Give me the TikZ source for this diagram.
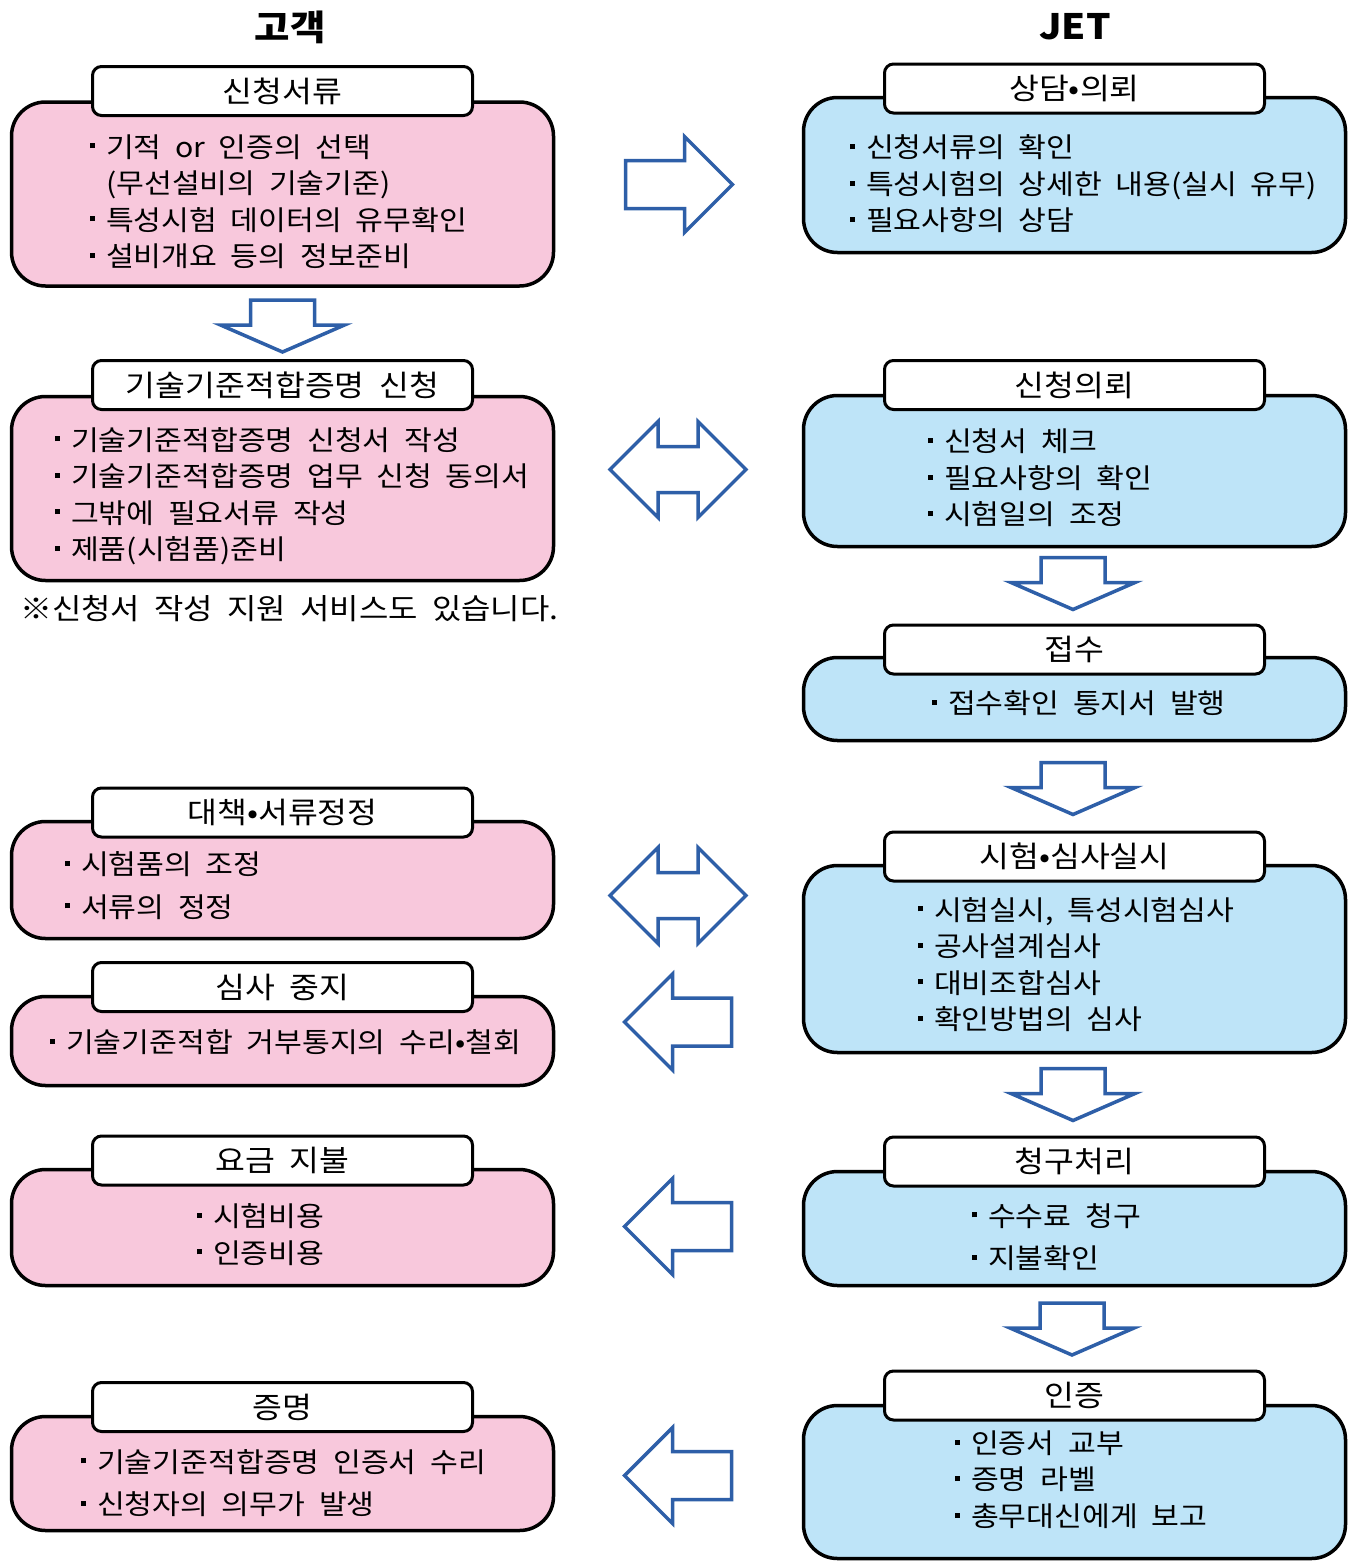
\documentclass[tikz,border=0pt]{standalone}
\usepackage{fontspec}
\setmainfont{Noto Sans CJK KR}[WordSpace=2,FakeStretch=1.1]
\definecolor{boxpink}{HTML}{F8C8DC}
\definecolor{boxblue}{HTML}{BEE4F8}
\definecolor{arrowblue}{HTML}{2E5FA8}
\newcommand\bul{\rule[0.32em]{0.18em}{0.18em}\hspace{0.4em}}
\newcommand\ind{\hspace{0.58em}}

\begin{document}
\begin{tikzpicture}[x=1pt,y=-1pt,font=\fontsize{27.5}{36.5}\selectfont]
    \tikzstyle{body}=[draw,line width=3.5pt,rounded corners=34pt,minimum width=542pt,inner sep=0]
    \tikzstyle{pink body}=[body,fill=boxpink]
    \tikzstyle{blue body}=[body,fill=boxblue]
    \tikzstyle{tab}=[draw,fill=white,line width=3pt,rounded corners=9pt,minimum width=380pt,minimum height=49pt,inner sep=0,font=\fontsize{29.5}{30}\selectfont]
    \tikzstyle{items}=[align=left,inner sep=0,anchor=west]
    \tikzstyle{title}=[font=\fontsize{35}{36}\selectfont\bfseries]
    \tikzstyle{block arrow}=[draw=arrowblue,line width=3.5pt,fill=white]
    \tikzset{
        arrow right/.pic={\draw[block arrow] (-53,-24) -- (6,-24) -- (6,-48) -- (54,0) -- (6,48) -- (6,24) -- (-53,24) -- cycle;},
        arrow both/.pic={\draw[block arrow] (-68,0) -- (-20,-48) -- (-20,-23) -- (20,-23) -- (20,-48) -- (68,0) -- (20,48) -- (20,23) -- (-20,23) -- (-20,48) -- cycle;},
        arrow down/.pic={\draw[block arrow] (-32,-26) -- (32,-26) -- (32,-1) -- (62,-1) -- (0,26) -- (-62,-1) -- (-32,-1) -- cycle;}
    }
    \useasboundingbox (0,0) rectangle (1356,1564);

    \node(customer)[title] at (290,27) {고객};
    \node(jet)[title] at (1075,27) {JET};

    % customer side
    \node(b1)[pink body,minimum height=184pt] at (282.5,194) {};
    \node(t1)[tab] at (282.5,91) {신청서류};
    \node(i1)[items] at (90,201.5) {\bul 기적 or 인증의 선택\\ \ind(무선설비의 기술기준)\\ \bul 특성시험 데이터의 유무확인\\ \bul 설비개요 등의 정보준비};

    \node(b2)[pink body,minimum height=184pt] at (282.5,488.5) {};
    \node(t2)[tab] at (282.5,385) {기술기준적합증명 신청};
    \node(i2)[items] at (55,496) {\bul 기술기준적합증명 신청서 작성\\ \bul 기술기준적합증명 업무 신청 동의서\\ \bul 그밖에 필요서류 작성\\ \bul 제품(시험품)준비};
    \node(note)[items,font=\fontsize{29}{30}\selectfont] at (20,609) {※신청서 작성 지원 서비스도 있습니다.};

    \node(b3)[pink body,minimum height=117pt] at (282.5,880) {};
    \node(t3)[tab] at (282.5,812.5) {대책•서류정정};
    \node(i3)[items] at (65,885.5) {\bul 시험품의 조정\\[6pt] \bul 서류의 정정};

    \node(b4)[pink body,minimum height=89pt] at (282.5,1041) {};
    \node(t4)[tab] at (282.5,987) {심사 중지};
    \node(i4)[items] at (50,1042) {\bul 기술기준적합 거부통지의 수리•철회};

    \node(b5)[pink body,minimum height=116pt] at (282.5,1227.5) {};
    \node(t5)[tab] at (282.5,1160.5) {요금 지불};
    \node(i5)[items] at (197,1234.5) {\bul 시험비용\\ \bul 인증비용};

    \node(b6)[pink body,minimum height=114pt] at (282.5,1473.5) {};
    \node(t6)[tab] at (282.5,1407) {증명};
    \node(i6)[items] at (81,1483) {\bul 기술기준적합증명 인증서 수리\\[6pt] \bul 신청자의 의무가 발생};

    % JET side
    \node(r1)[blue body,minimum height=155pt] at (1074.5,175) {};
    \node(s1)[tab] at (1074.5,88.5) {상담•의뢰};
    \node(j1)[items] at (850,184) {\bul 신청서류의 확인\\ \bul 특성시험의 상세한 내용(실시 유무)\\ \bul 필요사항의 상담};

    \node(r2)[blue body,minimum height=151pt] at (1074.5,471) {};
    \node(s2)[tab] at (1074.5,385) {신청의뢰};
    \node(j2)[items] at (928,478) {\bul 신청서 체크\\ \bul 필요사항의 확인\\ \bul 시험일의 조정};

    \node(r3)[blue body,minimum height=83pt] at (1074.5,699) {};
    \node(s3)[tab] at (1074.5,649.5) {접수};
    \node(j3)[items] at (932,703) {\bul 접수확인 통지서 발행};

    \node(r4)[blue body,minimum height=187pt] at (1074.5,959) {};
    \node(s4)[tab] at (1074.5,856.5) {시험•심사실시};
    \node(j4)[items] at (918,964.5) {\bul 시험실시, 특성시험심사\\ \bul 공사설계심사\\ \bul 대비조합심사\\ \bul 확인방법의 심사};

    \node(r5)[blue body,minimum height=114pt] at (1074.5,1228.5) {};
    \node(s5)[tab] at (1074.5,1161.5) {청구처리};
    \node(j5)[items] at (972,1237) {\bul 수수료 청구\\[6pt] \bul 지불확인};

    \node(r6)[blue body,minimum height=153pt] at (1074.5,1482) {};
    \node(s6)[tab] at (1074.5,1395.5) {인증};
    \node(j6)[items] at (955,1479.5) {\bul 인증서 교부\\ \bul 증명 라벨\\ \bul 총무대신에게 보고};

    % arrows
    \pic at (282.5,326) {arrow down};
    \pic at (1073,583.5) {arrow down};
    \pic at (1073,788.5) {arrow down};
    \pic at (1073,1094.5) {arrow down};
    \pic at (1072,1329) {arrow down};
    \pic at (678.5,184.5) {arrow right};
    \pic at (678,469.5) {arrow both};
    \pic at (678,895.5) {arrow both};
    \pic[xscale=-1] at (678.5,1022) {arrow right};
    \pic[xscale=-1] at (678.5,1226.5) {arrow right};
    \pic[xscale=-1] at (678.5,1475.5) {arrow right};
\end{tikzpicture}
\end{document}
